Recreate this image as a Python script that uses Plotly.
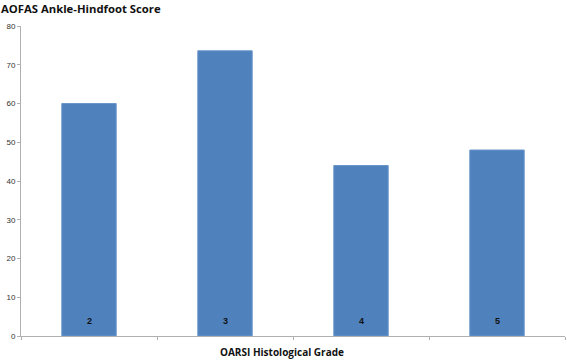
import plotly.graph_objects as go

grades = ["2", "3", "4", "5"]
scores = [60, 73.6, 44, 48]
y_ticks = [0, 10, 20, 30, 40, 50, 60, 70, 80]

x_pos = list(range(len(grades)))

fig = go.Figure(go.Bar(
    x=x_pos, y=scores, width=0.4,
    marker=dict(color="#4F81BD", line=dict(color="#6A96CC", width=1)),
    hoverinfo="skip",
))

annotations = [
    dict(text=f"<b>{g}</b>", x=xp, y=0, xref="x", yref="y", xanchor="center", yanchor="bottom",
         yshift=8, showarrow=False,
         font=dict(family="Liberation Sans, Arial", size=9, color="#111111"))
    for xp, g in zip(x_pos, grades)
]
annotations += [
    dict(text="<b>AOFAS Ankle-Hindfoot Score</b>", x=0, y=1, xref="paper", yref="paper",
         xanchor="left", yanchor="top", xshift=-22, yshift=27, showarrow=False,
         font=dict(family="Open Sans, Arial", size=11.3, color="#111111")),
    dict(text="<b>OARSI Histological Grade</b>", x=0.48, y=0, xref="paper", yref="paper",
         xanchor="center", yanchor="top", yshift=-7, showarrow=False,
         font=dict(family="Open Sans, Arial", size=10, color="#111111")),
]

fig.update_layout(
    width=567, height=360,
    margin=dict(l=21, r=2, t=26, b=24),
    paper_bgcolor="white", plot_bgcolor="white",
    showlegend=False,
    xaxis=dict(
        range=[-0.5, 3.5], tickvals=[-0.5, 0.5, 1.5, 2.5, 3.5], ticktext=["", "", "", "", ""],
        ticks="outside", ticklen=3, tickcolor="#B0B0B0", automargin=False,
        showline=True, linecolor="#B0B0B0", linewidth=1, showgrid=False, zeroline=False,
    ),
    yaxis=dict(
        range=[0, 80], tickvals=y_ticks, automargin=False,
        ticks="outside", ticklen=3, tickcolor="#B0B0B0",
        showline=True, linecolor="#B0B0B0", linewidth=1, showgrid=False, zeroline=False,
        tickfont=dict(family="Liberation Sans, Arial", size=8, color="#333333"),
    ),
    annotations=annotations,
)

fig.write_html(
    "out.html",
    config={"displayModeBar": False},
    post_script="document.body.style.margin='0';document.body.style.overflow='hidden';",
)
